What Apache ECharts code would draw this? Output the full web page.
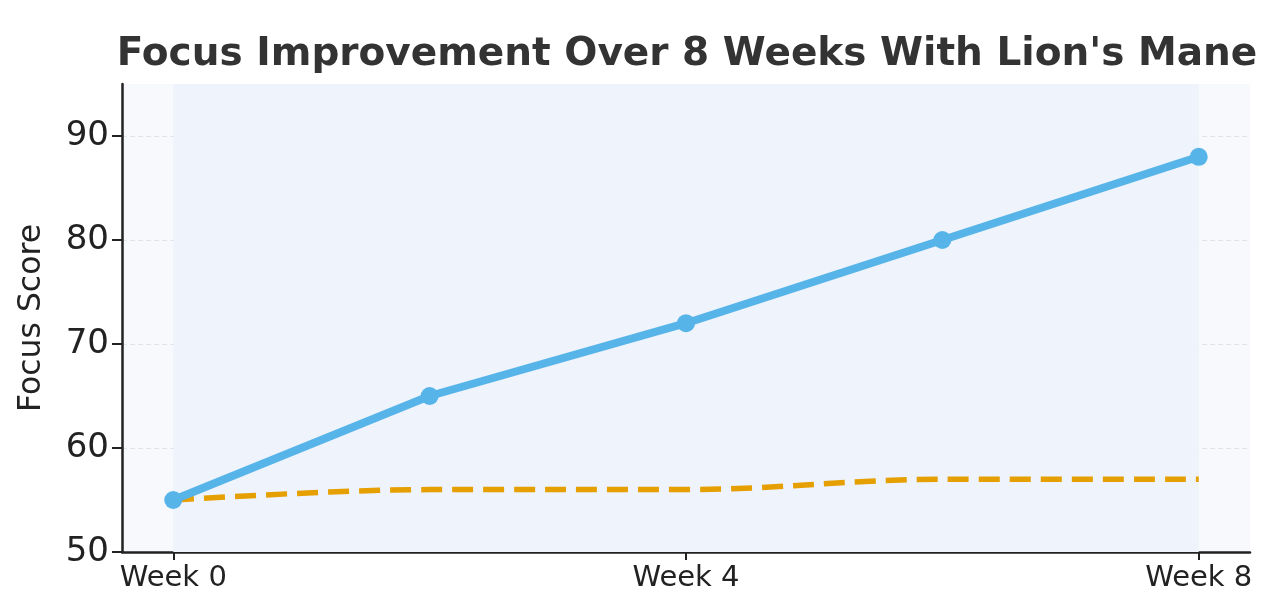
<!DOCTYPE html>
<html>
<head>
<meta charset="utf-8">
<script src="https://cdn.jsdelivr.net/npm/echarts@6/dist/echarts.min.js"></script>
<style>
html,body{margin:0;padding:0;background:#fff;}
#chart{width:1280px;height:594px;}
</style>
</head>
<body>
<div id="chart"></div>
<script>
const weeks = [0, 2, 4, 6, 8];
const lionsMane = [55, 65, 72, 80, 88];
const placebo = [55, 56, 56, 57, 57];
const xTickWeeks = [0, 4, 8];
const yTicks = [50, 60, 70, 80, 90];
const titleText = "Focus Improvement Over 8 Weeks With Lion's Mane";
const yAxisName = "Focus Score";

const chart = echarts.init(document.getElementById('chart'), null, {renderer: 'canvas'});
const font = 'DejaVu Sans';

chart.setOption({
  animation: false,
  backgroundColor: '#ffffff',
  title: {
    text: titleText,
    left: 682,
    textAlign: 'center',
    top: 30,
    textStyle: {fontFamily: font, fontWeight: 'bold', fontSize: 39, color: '#333333'}
  },
  grid: {
    left: 122, right: 30, top: 84, bottom: 42,
    show: true, backgroundColor: '#f7f9fc', borderWidth: 0
  },
  xAxis: {
    type: 'value',
    min: -0.4, max: 8.4,
    axisLine: {show: true, onZero: false, lineStyle: {color: '#222222', width: 2.5}},
    axisTick: {show: true, customValues: xTickWeeks, length: 8, lineStyle: {color: '#222222', width: 2}},
    axisLabel: {
      customValues: xTickWeeks,
      formatter: v => 'Week ' + v,
      fontFamily: font, fontSize: 29, color: '#222222', margin: 12
    },
    splitLine: {show: false}
  },
  yAxis: {
    type: 'value',
    min: 50, max: 95,
    name: yAxisName,
    nameLocation: 'middle',
    nameGap: 74,
    nameRotate: 90,
    nameTextStyle: {fontFamily: font, fontSize: 31.5, color: '#222222'},
    axisLine: {show: true, onZero: false, lineStyle: {color: '#222222', width: 2.5}},
    axisTick: {show: true, customValues: yTicks, length: 10, lineStyle: {color: '#222222', width: 2}},
    axisLabel: {
      customValues: yTicks,
      fontFamily: font, fontSize: 34, color: '#222222', margin: 13
    },
    splitLine: {show: true, lineStyle: {color: '#e1e5ea', width: 1, type: [5, 3]}}
  },
  series: [
    {
      name: 'Placebo',
      type: 'line',
      data: weeks.map((w, i) => [w, placebo[i]]),
      smooth: 0.35,
      smoothMonotone: 'x',
      showSymbol: false,
      symbol: 'none',
      lineStyle: {color: '#E69F00', width: 5.5, type: [21, 10], cap: 'butt'},
      z: 3,
      markArea: {
        silent: true,
        itemStyle: {color: '#eef3fc'},
        data: [[{xAxis: weeks[0]}, {xAxis: weeks[weeks.length - 1]}]]
      }
    },
    {
      name: "Lion's Mane",
      type: 'line',
      data: weeks.map((w, i) => [w, lionsMane[i]]),
      symbol: 'circle',
      symbolSize: 18,
      itemStyle: {color: '#56B4E9'},
      lineStyle: {color: '#56B4E9', width: 8},
      z: 4
    }
  ]
});
</script>
</body>
</html>
